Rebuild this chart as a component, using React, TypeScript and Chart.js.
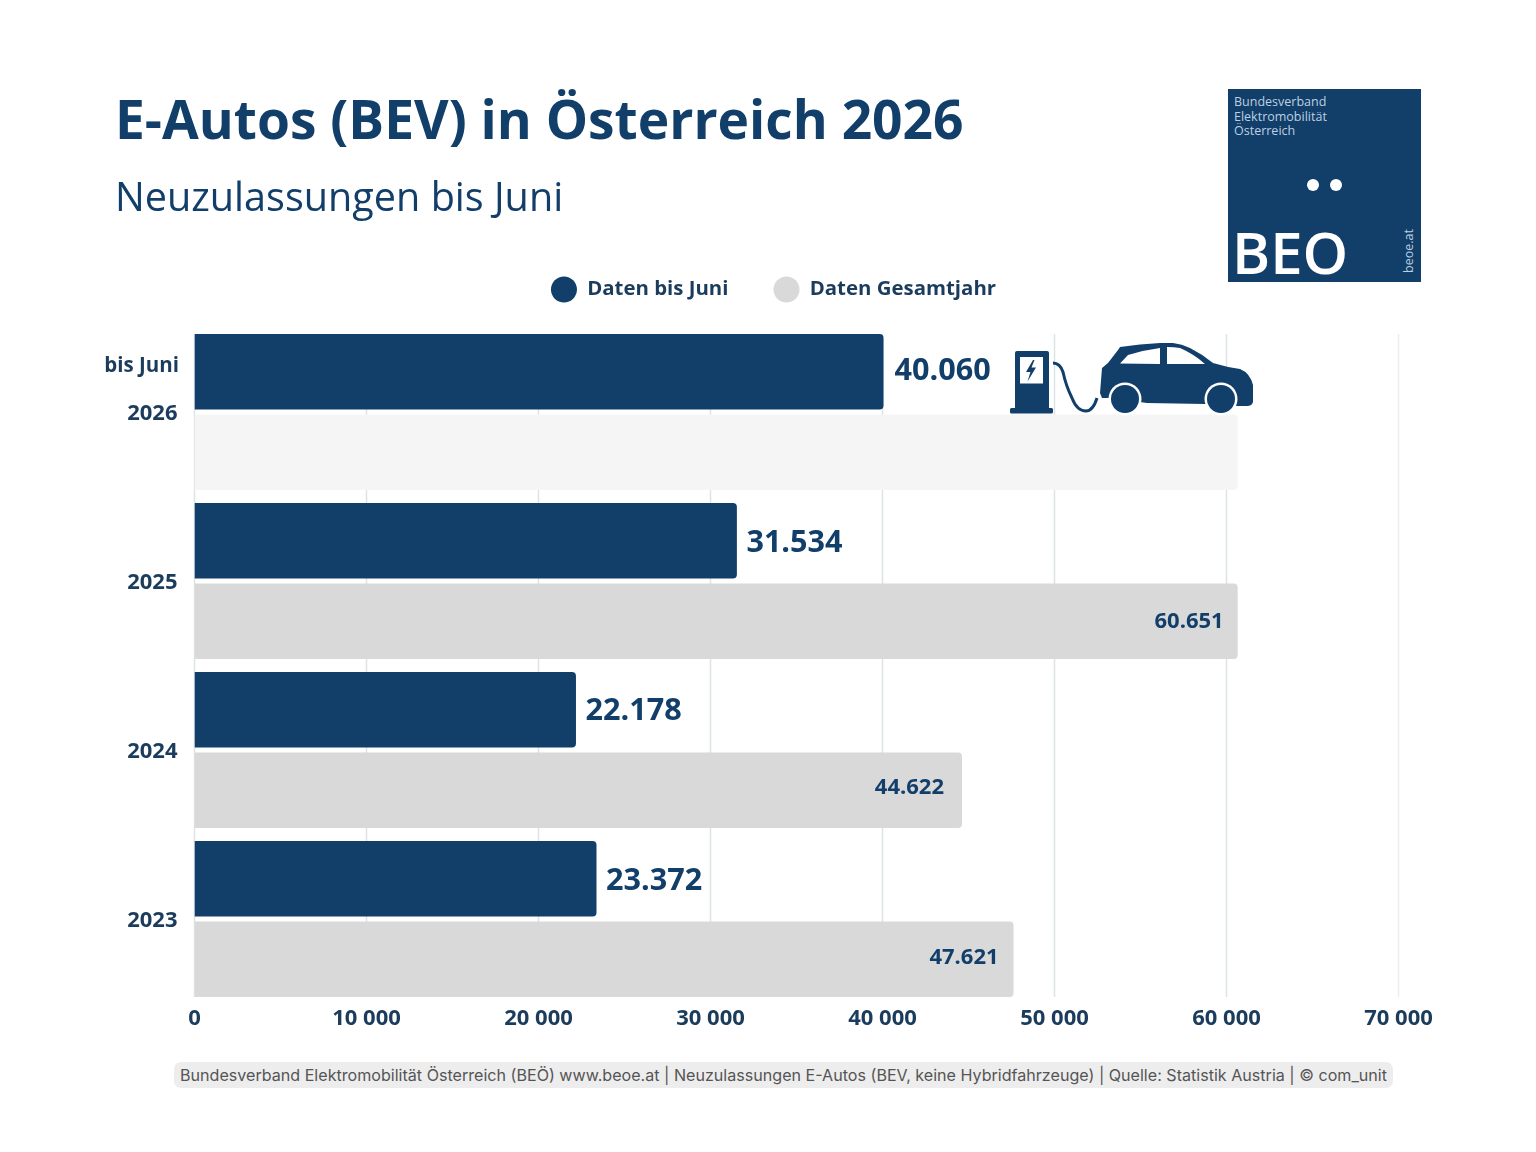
import { useEffect, useRef } from "react";
import { Chart, registerables, type ChartConfiguration, type Plugin } from "chart.js";

Chart.register(...registerables);

const years = ["2026", "2025", "2024", "2023"];
const untilJune = [40060, 31534, 22178, 23372];
const fullYear = [60651, 60651, 44622, 47621];
// the 2026 full-year bar is only a placeholder, it gets no number
const fullYearShown = [false, true, true, true];

const NAVY = "#123e6a";
const TICK = "#1b3c5c";
const GREY = "#d9d9d9";
const FONT = '"Open Sans", sans-serif';

const fmtLabel = (v: number) => String(v).replace(/(\d{3})$/, ".$1");
const fmtTick = (v: number) => String(v).replace(/(\d{3})$/, " $1");

const valueLabels: Plugin<"bar"> = {
  id: "valueLabels",
  afterDatasetsDraw(chart) {
    const { ctx } = chart;
    ctx.save();
    ctx.textBaseline = "middle";

    const topDy = [0, 3, 2, 3];
    const topDx = [11, 9.5, 9.5, 9.5];
    chart.getDatasetMeta(0).data.forEach((bar, i) => {
      ctx.font = `700 30.6px ${FONT}`;
      ctx.fillStyle = NAVY;
      ctx.textAlign = "left";
      ctx.fillText(fmtLabel(untilJune[i]), bar.x + topDx[i], bar.y + topDy[i]);
    });

    const dy = [0, 1, -2, -2];
    const dx = [15, 14, 18, 15];
    chart.getDatasetMeta(1).data.forEach((bar, i) => {
      if (!fullYearShown[i]) return;
      ctx.font = `700 22px ${FONT}`;
      ctx.fillStyle = NAVY;
      ctx.textAlign = "right";
      ctx.fillText(fmtLabel(fullYear[i]), bar.x - dx[i], bar.y + dy[i]);
    });

    // small note above the first year label
    const first = chart.getDatasetMeta(0).data[0];
    ctx.font = `700 20.5px ${FONT}`;
    ctx.fillStyle = TICK;
    ctx.textAlign = "right";
    ctx.fillText("bis Juni", 179, first.y - 5);
    ctx.restore();
  },
};

// grid stops at the outer bar edges, not at the end of the category bands
const gridLines: Plugin<"bar"> = {
  id: "gridLines",
  beforeDatasetsDraw(chart) {
    const { ctx } = chart;
    const x = chart.scales.x;
    const top = chart.getDatasetMeta(0).data[0] as any;
    const bottom = chart.getDatasetMeta(1).data[3] as any;
    ctx.save();
    ctx.lineWidth = 1.5;
    x.ticks.forEach((t) => {
      const px = x.getPixelForValue(t.value);
      ctx.strokeStyle = t.value === 70000 ? "#e9edef" : "#dce3e7";
      ctx.beginPath();
      ctx.moveTo(px, top.y - top.height / 2);
      ctx.lineTo(px, bottom.y + bottom.height / 2);
      ctx.stroke();
    });
    ctx.restore();
  },
};

// legend sits off-centre and well above the plot
const moveLegend: Plugin<"bar"> = {
  id: "moveLegend",
  afterLayout(chart) {
    const l = chart.legend as any;
    const dx = 773.5 - (l.left + l.right) / 2;
    const dy = 272 - (l.top + l.bottom) / 2;
    l.left += dx;
    l.right += dx;
    l.top += dy;
    l.bottom += dy;
  },
};

function EvIcon() {
  return (
    <svg
      viewBox="0 0 270 170"
      width={270}
      height={170}
      style={{ position: "absolute", left: 1000, top: 330 }}
    >
      <g fill={NAVY}>
        <path d="M15 23 q0 -2 2 -2 h30 q2 0 2 2 v55 h-34 z" />
        <rect x="10" y="78" width="43" height="5.5" rx="1.5" />
        <path d="M100 63 L102 38 L108 33 L118 20 L120 17 Q140 14 160 13 L173 13 Q182 14 190 18 Q202 24 213 33 Q226 37 240 39 Q250 43 253 55 L253 72 Q252 76 247 76 L237 76 L205 74 L147 73 L110 68 L102 68 Z" />
      </g>
      <rect x="20" y="27" width="23" height="26.5" fill="#fff" />
      <path d="M33 30 l-7 12 h4.5 l-3 9.5 l8.5 -14 h-4.5 l3 -7.5 z" fill={NAVY} />
      <path d="M120 33.5 L128 25 Q144 20 160 18 L160 34 Z M167 17 Q174 17 180 18 Q194 24 205 34 L167 34 Z" fill="#fff" />
      <path d="M53 33 q7 0 10 9 q3 14 9 26 q5 13 14 13 q7 0 11 -13" fill="none" stroke={NAVY} strokeWidth="3" />
      <circle cx="125" cy="69" r="16.5" fill="#fff" />
      <circle cx="221" cy="69" r="16.5" fill="#fff" />
      <circle cx="125" cy="69" r="14" fill={NAVY} />
      <circle cx="221" cy="69" r="14" fill={NAVY} />
    </svg>
  );
}

function Logo() {
  const light = "#bcd0e0";
  return (
    <div style={{ position: "absolute", left: 1228, top: 89, width: 193, height: 193, background: NAVY, overflow: "hidden" }}>
      <div style={{ position: "absolute", left: 6, top: 6, font: `400 12.5px/14.5px ${FONT}`, color: light }}>
        Bundesverband
        <br />
        Elektromobilität
        <br />
        Österreich
      </div>
      <div style={{ position: "absolute", left: 78.5, top: 90, width: 12, height: 12, borderRadius: "50%", background: "#fff" }} />
      <div style={{ position: "absolute", left: 101.5, top: 90, width: 12, height: 12, borderRadius: "50%", background: "#fff" }} />
      <div style={{ position: "absolute", left: 4, top: 130, font: `600 58px/66px ${FONT}`, color: "#fff" }}>BEO</div>
      <div
        style={{
          position: "absolute",
          left: 173,
          top: 184,
          font: `400 12.5px/16px ${FONT}`,
          color: light,
          transform: "rotate(-90deg)",
          transformOrigin: "0 0",
        }}
      >
        beoe.at
      </div>
    </div>
  );
}

export default function App() {
  const canvasRef = useRef<HTMLCanvasElement | null>(null);

  useEffect(() => {
    if (!canvasRef.current) return;
    document.body.style.margin = "0";

    const config: ChartConfiguration<"bar"> = {
      type: "bar",
      data: {
        labels: years,
        datasets: [
          {
            label: "Daten bis Juni",
            data: untilJune,
            backgroundColor: NAVY,
            borderRadius: 4,
            categoryPercentage: 0.9527,
            barPercentage: 0.938,
          },
          {
            label: "Daten Gesamtjahr",
            data: fullYear,
            backgroundColor: (c) => (c.dataIndex === 0 ? "#f5f5f5" : GREY),
            borderRadius: 4,
            categoryPercentage: 0.9527,
            barPercentage: 0.938,
          },
        ],
      },
      options: {
        indexAxis: "y",
        responsive: false,
        animation: false,
        devicePixelRatio: 1,
        layout: { padding: { left: 100, right: 137.5, top: 252, bottom: 0 } },
        plugins: {
          tooltip: { enabled: false },
          title: { display: false },
          legend: {
            position: "top",
            labels: {
              usePointStyle: true,
              pointStyle: "circle",
              pointStyleWidth: 26,
              boxHeight: 18.4,
              padding: 45,
              color: TICK,
              font: { family: FONT, size: 20.4, weight: 700 },
              generateLabels: (chart) =>
                Chart.defaults.plugins.legend.labels.generateLabels(chart).map((item, i) => ({
                  ...item,
                  fillStyle: i === 1 ? GREY : item.fillStyle,
                })),
            },
          },
        },
        scales: {
          x: {
            type: "linear",
            min: 0,
            max: 70000,
            grid: { display: false, drawTicks: false },
            border: { display: false },
            ticks: {
              stepSize: 10000,
              maxRotation: 0,
              padding: 2,
              color: TICK,
              font: { family: FONT, size: 22, weight: 700 },
              callback: (v) => fmtTick(Number(v)),
            },
            afterFit: (s) => {
              s.height = 1152 - 1003.5;
            },
          },
          y: {
            grid: { display: false, drawTicks: false },
            border: { display: false },
            ticks: {
              padding: 17,
              labelOffset: 2,
              color: TICK,
              font: { family: FONT, size: 22, weight: 700 },
            },
            afterFit: (s) => {
              s.width = 94.5;
            },
          },
        },
      },
      plugins: [gridLines, valueLabels, moveLegend],
    };

    const chart = new Chart(canvasRef.current, config);
    return () => chart.destroy();
  }, []);

  return (
    <div style={{ position: "relative", width: 1536, height: 1152, background: "#fff", overflow: "hidden" }}>
      <canvas ref={canvasRef} width={1536} height={1152} style={{ position: "absolute", left: 0, top: 0 }} />
      <div style={{ position: "absolute", left: 115, top: 84, font: `700 53.3px/70px ${FONT}`, color: NAVY, whiteSpace: "nowrap" }}>
        E-Autos (BEV) in Österreich 2026
      </div>
      <div style={{ position: "absolute", left: 115, top: 169, font: `400 39.6px/54px ${FONT}`, color: NAVY, whiteSpace: "nowrap" }}>
        Neuzulassungen bis Juni
      </div>
      <Logo />
      <EvIcon />
      <div
        style={{
          position: "absolute",
          left: 174,
          top: 1062,
          width: 1219,
          height: 26,
          borderRadius: 7,
          background: "#ededed",
          font: "400 16.1px/26px Inter, sans-serif",
          color: "#555",
          textAlign: "center",
          whiteSpace: "nowrap",
        }}
      >
        Bundesverband Elektromobilität Österreich (BEÖ) www.beoe.at | Neuzulassungen E-Autos (BEV, keine Hybridfahrzeuge) | Quelle: Statistik Austria | © com_unit
      </div>
    </div>
  );
}
